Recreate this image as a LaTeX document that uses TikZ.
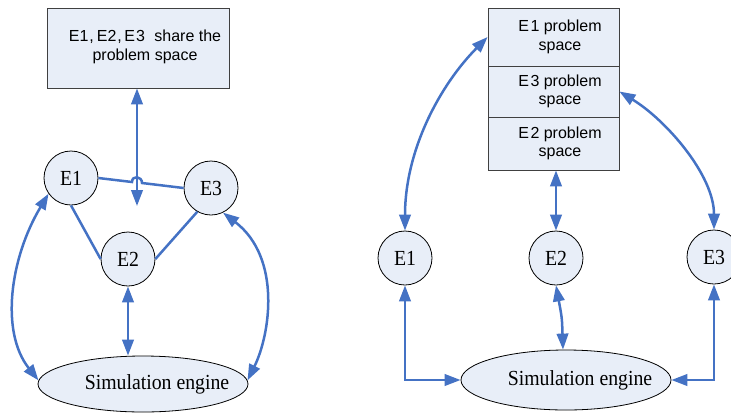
\documentclass[tikz,border=0pt]{standalone}
\usepackage{fontspec}
\setmainfont{Liberation Serif}
\newfontfamily\boxfont{Liberation Sans}
\usetikzlibrary{arrows.meta,shapes.geometric,calc}
\definecolor{linkblue}{RGB}{68,114,196}
\definecolor{paleblue}{RGB}{232,238,248}
\definecolor{framegray}{RGB}{64,64,64}
% serif labels are set slightly condensed
\newcommand{\narrowlabel}[1]{\scalebox{0.92}[1]{#1}}

\begin{document}
\begin{tikzpicture}[x=1pt,y=1pt,
  wire/.style={draw=linkblue, line width=2.5pt},
  biarrow/.style={wire, {Triangle[length=16pt,width=11.5pt]}-{Triangle[length=16pt,width=11.5pt]}},
  entity/.style={circle, draw=black, line width=0.8pt, fill=paleblue,
    minimum size=54pt, inner sep=0pt, font=\fontsize{21.5}{24}\selectfont},
  engine/.style={ellipse, draw=black, line width=0.8pt, fill=paleblue,
    minimum width=210pt, minimum height=56pt, inner sep=0pt,
    font=\fontsize{21.5}{24}\selectfont},
  spacebox/.style={rectangle, draw=framegray, line width=0.8pt, fill=paleblue,
    inner sep=0pt, minimum width=131pt},
  spacetext/.style={font=\boxfont\fontsize{16}{18.5}\selectfont, align=center, inner sep=0pt}
]
\useasboundingbox (0,0) rectangle (731,-413);
\clip (0,0) rectangle (731,-413);

% ---------- left: one shared problem space ----------
\node[spacebox, minimum width=182pt, minimum height=80pt] (shared) at (138,-48) {};
\node[spacetext] (sharedtext) at (145,-47)
  {E1\kern1pt,\kern3pt E2\kern1pt,\kern2.5pt E\kern1pt3\kern5pt\ share the\\problem space};

\node[entity] (e1) at (71,-178) {\narrowlabel{E1}};
\node[entity] (e3) at (211,-188) {\narrowlabel{E3}};
\node[entity] (e2) at (128,-259) {\narrowlabel{E2}};
\node[engine] (eng) at (143,-384)
  {\makebox[0pt][c]{\hspace*{28pt}\narrowlabel{Simulation engine}}};

\coordinate (hubtip) at (137,-206);
\coordinate (hopL) at (132,-182);
\coordinate (hopR) at (142,-183);

% links between the three entities (E1--E3 hops over the vertical arrow)
\draw[wire] (e1.east) -- (hopL) .. controls (132,-175) and (142,-176) .. (hopR) -- (e3.west);
\draw[wire] (e1.south) -- (e2.west);
\draw[wire] (e3.-120) -- (e2.east);

\draw[biarrow] (hubtip) -- (hubtip |- shared.south);
\draw[biarrow] (e2.south) -- (e2.south |- eng.north);
\draw[biarrow] (e1.215) .. controls (10,-258) and (0,-332) .. (eng.178);
\draw[biarrow] (e3.-64) .. controls (282,-258) and (270,-335) .. (eng.2);

% ---------- right: separate problem spaces ----------
\node[spacebox, minimum height=58pt] (sp1) at (553.5,-37) {};
\node[spacebox, minimum height=51pt] (sp3) at (553.5,-91.5) {};
\node[spacebox, minimum height=53pt] (sp2) at (553.5,-143.5) {};
\node[spacetext] (t1) at (560,-37) {E\kern1.5pt1 problem\\space};
\node[spacetext] (t3) at (560,-91.5) {E\kern1.5pt3 problem\\space};
\node[spacetext] (t2) at (560,-143.5) {E\kern1.5pt2 problem\\space};

\node[entity] (r1) at (405,-258) {\narrowlabel{E1}};
\node[entity] (r2) at (556,-258) {\narrowlabel{E2}};
\node[entity] (r3) at (714,-257) {\narrowlabel{E3}};
\node[engine, minimum height=60pt] (reng) at (566,-380)
  {\makebox[0pt][c]{\hspace*{28pt}\narrowlabel{Simulation engine}}};

\draw[biarrow] (r1.north) .. controls (405,-150) and (440,-85) .. (sp1.west);
\draw[biarrow] (sp3.east) .. controls (666,-120) and (714,-175) .. (r3.north);
\draw[biarrow] (r2.north) -- (r2.north |- sp2.south);

\draw[biarrow] (r1.south) |- (reng.west);
\draw[biarrow] (r3.south) |- (reng.east);
\draw[biarrow] (r2.south) .. controls (562,-318) .. ([xshift=-3pt]reng.north);
\end{tikzpicture}
\end{document}
